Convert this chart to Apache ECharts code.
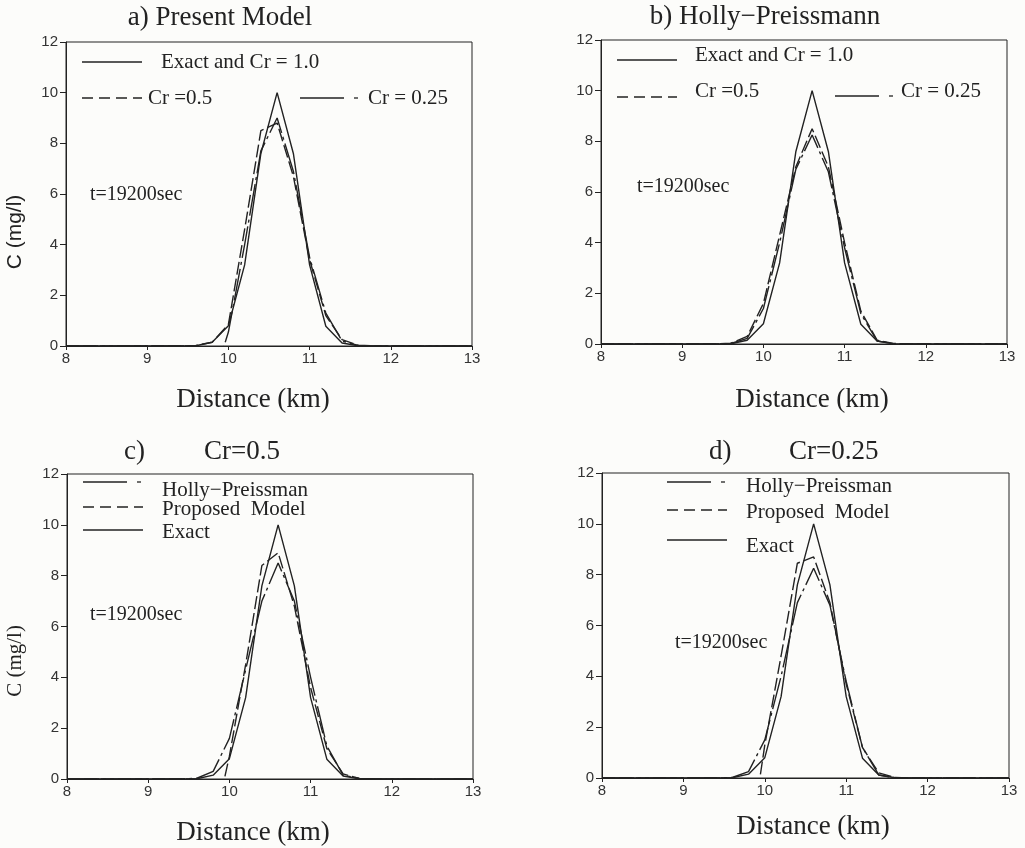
<!DOCTYPE html>
<html>
<head>
<meta charset="utf-8">
<script src="https://cdn.jsdelivr.net/npm/echarts@6/dist/echarts.min.js"></script>
<style>
  html, body { margin: 0; padding: 0; background: #fcfcfa; }
  #chart { width: 1025px; height: 848px; }
</style>
</head>
<body>
<div id="chart"></div>
<script>
// distance points (km)
const distance = [8.0, 9.4, 9.6, 9.8, 10.0, 10.2, 10.4, 10.6, 10.8, 11.0, 11.2, 11.4, 11.6, 11.8, 13.0];

// concentration C (mg/l)
const exact = [0, 0, 0.01, 0.15, 0.8, 3.2, 7.6, 10.0, 7.6, 3.2, 0.78, 0.12, 0.01, 0, 0];

// a) present model
const presentCr05 = [0, 0, 0.02, 0.15, 0.85, 4.6, 8.5, 8.8, 6.7, 3.4, 1.2, 0.25, 0.03, 0, 0];
const presentCr025 = [0, 0, 0, -1.5, 0.55, 4.0, 7.7, 9.0, 6.9, 3.5, 1.3, 0.2, 0.02, 0, 0];

// b) holly-preissmann
const hollyCr05 = [0, 0, 0.03, 0.3, 1.6, 4.3, 7.0, 8.5, 7.0, 4.0, 1.3, 0.15, 0.02, 0, 0];
const hollyCr025 = [0, 0, 0.02, 0.22, 1.4, 4.0, 6.9, 8.25, 6.8, 3.8, 1.2, 0.12, 0.01, 0, 0];

// c) Cr=0.5 comparison
const hollyC = [0, 0, 0.03, 0.3, 1.6, 4.3, 7.0, 8.5, 7.0, 4.0, 1.3, 0.15, 0.02, 0, 0];
const proposedC = [0, 0, 0, -2.0, 0.9, 4.5, 8.4, 8.9, 6.8, 3.6, 1.2, 0.2, 0.02, 0, 0];

// d) Cr=0.25 comparison
const hollyD = [0, 0, 0.02, 0.25, 1.5, 4.0, 6.9, 8.25, 6.8, 3.8, 1.2, 0.12, 0.01, 0, 0];
const proposedD = [0, 0, 0, -3.0, 1.3, 4.8, 8.45, 8.7, 6.9, 3.7, 1.2, 0.2, 0.02, 0, 0];

const xTicks = [8, 9, 10, 11, 12, 13];
const yTicks = [0, 2, 4, 6, 8, 10, 12];

const ink = "#222";
const serif = "Liberation Serif";
const sans = "Liberation Sans";
const SOLID = "solid";
const DASH = [11, 6];
const DASHDOT = [26, 6, 3, 6];
// on the curves the dashes run longer, almost solid
const CURVE_DASH = [13, 4];
const CURVE_DASHDOT = [32, 4, 3, 4];

function pairs(ys) {
  return distance.map((x, i) => [x, ys[i]]);
}

const grids = [
  { left: 66, top: 42, width: 406, height: 304 },
  { left: 601, top: 40, width: 406, height: 304 },
  { left: 67, top: 474, width: 406, height: 305 },
  { left: 602, top: 473, width: 407, height: 305 },
].map((g) => Object.assign({ show: true, borderColor: ink, borderWidth: 1, backgroundColor: "transparent" }, g));

const xAxes = grids.map((g, i) => ({
  type: "value",
  gridIndex: i,
  min: xTicks[0],
  max: xTicks[xTicks.length - 1],
  interval: 1,
  axisLine: { lineStyle: { color: ink, width: 1 } },
  axisTick: { show: true, length: 4, lineStyle: { color: ink } },
  axisLabel: { fontFamily: sans, fontSize: 15, color: "#333", margin: 5 },
  splitLine: { show: false },
}));

const yAxes = grids.map((g, i) => ({
  type: "value",
  gridIndex: i,
  min: yTicks[0],
  max: yTicks[yTicks.length - 1],
  interval: 2,
  axisLine: { lineStyle: { color: ink, width: 1 } },
  axisTick: { show: true, length: 6, lineStyle: { color: ink } },
  axisLabel: { fontFamily: sans, fontSize: 15, color: "#333", margin: 8 },
  splitLine: { show: false },
}));

function line(name, idx, ys, type) {
  return {
    name: name,
    type: "line",
    xAxisIndex: idx,
    yAxisIndex: idx,
    data: pairs(ys),
    showSymbol: false,
    clip: true,
    lineStyle: { color: ink, width: 1.4, type: type },
    z: 3,
  };
}

const series = [
  line("Exact and Cr = 1.0", 0, exact, SOLID),
  line("Cr =0.5", 0, presentCr05, CURVE_DASH),
  line("Cr = 0.25", 0, presentCr025, CURVE_DASHDOT),
  line("Exact and Cr = 1.0 ", 1, exact, SOLID),
  line("Cr =0.5 ", 1, hollyCr05, CURVE_DASH),
  line("Cr = 0.25 ", 1, hollyCr025, CURVE_DASHDOT),
  line("Holly-Preissman", 2, hollyC, CURVE_DASHDOT),
  line("Proposed Model", 2, proposedC, CURVE_DASH),
  line("Exact", 2, exact, SOLID),
  line("Holly-Preissman ", 3, hollyD, CURVE_DASHDOT),
  line("Proposed Model ", 3, proposedD, CURVE_DASH),
  line("Exact ", 3, exact, SOLID),
];

// text and legend samples
function txt(x, y, s, size, align, family) {
  return {
    type: "text",
    x: x,
    y: y,
    style: {
      text: s,
      fontFamily: family || serif,
      fontSize: size,
      fill: ink,
      align: align || "left",
      verticalAlign: "middle",
    },
  };
}
function vtxt(x, y, s, size, family) {
  const t = txt(0, 0, s, size, "center", family);
  t.x = x;
  t.y = y;
  t.rotation = Math.PI / 2;
  return t;
}
function sample(x1, x2, y, dash) {
  return {
    type: "line",
    shape: { x1: x1, y1: y, x2: x2, y2: y },
    style: { stroke: ink, lineWidth: 1.3, lineDash: dash === SOLID ? null : dash },
  };
}
function dashDotSample(x1, y) {
  return [sample(x1, x1 + 44, y, SOLID), sample(x1 + 54, x1 + 58, y, SOLID)];
}

const graphics = [
  // titles
  txt(220, 18, "a) Present Model", 27, "center"),
  txt(765, 17, "b) Holly\u2212Preissmann", 27, "center"),
  txt(124, 452, "c)", 27),
  txt(204, 452, "Cr=0.5", 27),
  txt(709, 452, "d)", 27),
  txt(789, 452, "Cr=0.25", 27),
  // axis names
  txt(253, 400, "Distance (km)", 27, "center"),
  txt(812, 400, "Distance (km)", 27, "center"),
  txt(253, 833, "Distance (km)", 27, "center"),
  txt(813, 827, "Distance (km)", 27, "center"),
  vtxt(15, 232, "C (mg/l)", 21, sans),
  vtxt(15, 661, "C (mg/l)", 21, serif),
  // time labels
  txt(90, 195, "t=19200sec", 20),
  txt(637, 187, "t=19200sec", 20),
  txt(90, 615, "t=19200sec", 20),
  txt(675, 643, "t=19200sec", 20),
  // legend a
  sample(82, 142, 62, SOLID),
  txt(161, 62, "Exact and Cr = 1.0", 21),
  sample(82, 142, 98, DASH),
  txt(148, 98, "Cr =0.5", 21),
  ...dashDotSample(300, 98),
  txt(368, 98, "Cr = 0.25", 21),
  // legend b
  sample(617, 677, 60, SOLID),
  txt(695, 55, "Exact and Cr = 1.0", 21),
  sample(617, 677, 97, DASH),
  txt(695, 91, "Cr =0.5", 21),
  ...dashDotSample(835, 96),
  txt(901, 91, "Cr = 0.25", 21),
  // legend c
  ...dashDotSample(83, 482),
  txt(162, 490, "Holly\u2212Preissman", 21),
  sample(83, 143, 507, DASH),
  txt(162, 509, "Proposed  Model", 21),
  sample(83, 143, 530, SOLID),
  txt(162, 532, "Exact", 21),
  // legend d
  ...dashDotSample(667, 482),
  txt(746, 486, "Holly\u2212Preissman", 21),
  sample(667, 727, 510, DASH),
  txt(746, 512, "Proposed  Model", 21),
  sample(667, 727, 540, SOLID),
  txt(746, 546, "Exact", 21),
];

const chart = echarts.init(document.getElementById("chart"), null, { renderer: "canvas" });
chart.setOption({
  backgroundColor: "#fcfcfa",
  animation: false,
  grid: grids,
  xAxis: xAxes,
  yAxis: yAxes,
  series: series,
  graphic: graphics,
});
window.addEventListener("resize", function () {
  chart.resize();
});
</script>
</body>
</html>
